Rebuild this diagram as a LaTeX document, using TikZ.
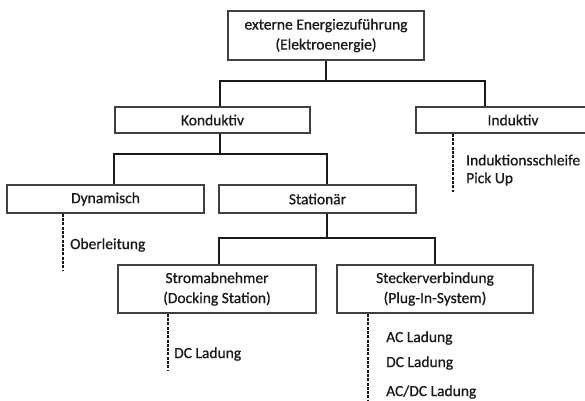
\documentclass[tikz,border=0pt]{standalone}
\usepackage{fontspec}
\setmainfont{Carlito}[FakeBold=0.7]
\usetikzlibrary{positioning}

\begin{document}
\begin{tikzpicture}[
  x=1pt, y=-1pt,
  every node/.style={
    font=\fontsize{15.5}{20}\selectfont, text=black!90
  },
  box/.style={
    draw=black!75, line width=1.4pt, fill=white,
    minimum height=26pt, align=center, inner sep=0pt
  },
  tree/.style={draw=black!90, line width=2pt},
  leaf/.style={draw=black!90, line width=1.5pt, dash pattern=on 3pt off 1.3pt},
  leaftext/.style={anchor=west, inner sep=0pt, align=left}
]
\clip (0,0) rectangle (585,400);

% boxes
\node[box, minimum width=196pt, minimum height=49pt] (quelle) at (326,35.5)
  {externe Energiezuführung\\(Elektroenergie)};
\node[box, minimum width=195pt] (kond) at (212.5,120) {Konduktiv};
\node[box, minimum width=194pt] (ind) at (513,120) {Induktiv};
\node[box, minimum width=197pt, minimum height=28pt] (dyn) at (105.5,199) {Dynamisch};
\node[box, minimum width=197pt, minimum height=28pt] (stat) at (317.5,199) {Stationär};
\node[box, minimum width=198pt, minimum height=48pt] (strom) at (217,289)
  {Stromabnehmer\\(Docking Station)};
\node[box, minimum width=196pt, minimum height=48pt] (stecker) at (435,289)
  {Steckerverbindung\\(Plug-In-System)};

% tree lines
\draw[tree] (quelle.south) -- ++(0,20) -| ([xshift=7.5pt]kond.north);
\draw[tree] (quelle.south) -- ++(0,20) -| ([xshift=-28pt]ind.north);
\draw[tree] ([xshift=7.5pt]kond.south) -- ++(0,20) -| ([xshift=8.5pt]dyn.north);
\draw[tree] ([xshift=7.5pt]kond.south) -- ++(0,20) -| ([xshift=9.5pt]stat.north);
\draw[tree] ([xshift=9.5pt]stat.south) -- ++(0,24) -| ([xshift=2pt]strom.north);
\draw[tree] ([xshift=9.5pt]stat.south) -- ++(0,24) -| (stecker.north);

% leaves
\coordinate (indend) at (453,192);
\coordinate (dynend) at (63,270);
\coordinate (stromend) at (168,370);
\coordinate (steckend) at (368,400);

\draw[leaf] (ind.south -| indend) -- (indend);
\draw[leaf] (dyn.south -| dynend) -- (dynend);
\draw[leaf] (strom.south -| stromend) -- (stromend);
\draw[leaf] (stecker.south -| steckend) -- (steckend);

\node[leaftext] (schleife) at (466,160) {Induktionsschleife};
\node[leaftext] (pickup) at (466,179) {Pick Up};
\node[leaftext] (oberl) at (70,245) {Oberleitung};
\node[leaftext] (dcstrom) at (174,354) {DC Ladung};
\node[leaftext] (ac) at (386,338) {AC Ladung};
\node[leaftext] (dc) at (386,363) {DC Ladung};
\node[leaftext] (acdc) at (386,392) {AC/DC Ladung};

\end{tikzpicture}
\end{document}
